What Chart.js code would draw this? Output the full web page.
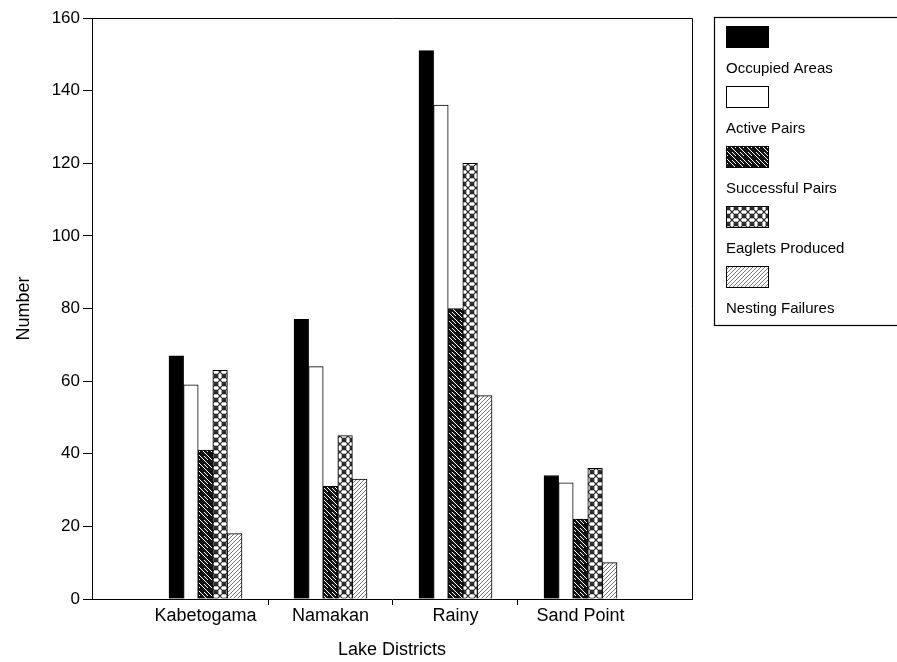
<!DOCTYPE html>
<html>
<head>
<meta charset="utf-8">
<script src="https://cdn.jsdelivr.net/npm/chart.js@4"></script>
<style>
  body { margin: 0; background: #fff; }
  #wrap { width: 897px; height: 662px; }
</style>
</head>
<body>
<div id="wrap"><canvas id="myChart" width="897" height="662"></canvas></div>
<script>
// data
var districts = ['Kabetogama', 'Namakan', 'Rainy', 'Sand Point'];
var occupiedAreas = [67, 77, 151, 34];
var activePairs = [59, 64, 136, 32];
var successfulPairs = [41, 31, 80, 22];
var eagletsProduced = [63, 45, 120, 36];
var nestingFailures = [18, 33, 56, 10];
var yTicks = [0, 20, 40, 60, 80, 100, 120, 140, 160];

var FONT = "'Liberation Sans', Arial, Helvetica, sans-serif";

// small tiles used as bar fills
function makePattern(kind) {
    var c = document.createElement('canvas');
    c.width = 8; c.height = 8;
    var g = c.getContext('2d');
    if (kind === 'solid') {
        g.fillStyle = '#000'; g.fillRect(0, 0, 8, 8);
    } else if (kind === 'empty') {
        g.fillStyle = '#fff'; g.fillRect(0, 0, 8, 8);
    } else if (kind === 'darkhatch') {
        g.fillStyle = '#111'; g.fillRect(0, 0, 8, 8);
        g.strokeStyle = '#fff'; g.lineWidth = 1;
        g.beginPath();
        g.moveTo(-1, -1); g.lineTo(9, 9);
        g.moveTo(3, -1); g.lineTo(9, 5);
        g.stroke();
    } else if (kind === 'cross') {
        g.fillStyle = '#fff'; g.fillRect(0, 0, 8, 8);
        g.strokeStyle = '#222'; g.lineWidth = 1.2;
        g.beginPath();
        g.moveTo(-1, -1); g.lineTo(9, 9);
        g.moveTo(-1, 9); g.lineTo(9, -1);
        g.moveTo(3, -1); g.lineTo(-1, 3);
        g.moveTo(5, -1); g.lineTo(9, 3);
        g.moveTo(-1, 5); g.lineTo(3, 9);
        g.moveTo(9, 5); g.lineTo(5, 9);
        g.stroke();
    } else if (kind === 'lighthatch') {
        g.fillStyle = '#fff'; g.fillRect(0, 0, 8, 8);
        g.strokeStyle = '#666'; g.lineWidth = 0.9;
        g.beginPath();
        g.moveTo(-1, 9); g.lineTo(9, -1);
        g.moveTo(-1, 5); g.lineTo(5, -1);
        g.moveTo(3, 9); g.lineTo(9, 3);
        g.stroke();
    }
    return g.createPattern(c, 'repeat');
}

function points(vals) {
    return vals.map(function (v, i) { return { x: i + 1, y: v }; });
}

function series(label, vals, kind) {
    return {
        label: label,
        data: points(vals),
        backgroundColor: makePattern(kind),
        borderColor: '#000',
        borderWidth: 1,
        borderSkipped: 'bottom',
        barThickness: 14.6
    };
}

// box round the plot (top and right edges)
var framePlugin = {
    id: 'frame',
    afterDraw: function (chart) {
        var a = chart.chartArea, ctx = chart.ctx;
        ctx.save();
        ctx.strokeStyle = '#000';
        ctx.lineWidth = 1;
        ctx.beginPath();
        ctx.moveTo(a.left, a.top + 0.5);
        ctx.lineTo(a.right + 0.5, a.top + 0.5);
        ctx.lineTo(a.right + 0.5, a.bottom);
        ctx.stroke();
        ctx.restore();
    }
};

// legend with swatch above each label, in a box on the right
var boxLegend = {
    id: 'boxLegend',
    afterDraw: function (chart) {
        var ctx = chart.ctx;
        var x = 714, y = 17, w = 200, h = 308;
        ctx.save();
        ctx.strokeStyle = '#000';
        ctx.lineWidth = 1.2;
        ctx.strokeRect(x + 0.5, y + 0.5, w, h);
        ctx.font = '15px ' + FONT;
        ctx.textBaseline = 'alphabetic';
        chart.data.datasets.forEach(function (ds, i) {
            var sy = y + 9 + i * 60;
            ctx.fillStyle = ds.backgroundColor;
            ctx.fillRect(726, sy, 43, 22);
            ctx.strokeStyle = '#000';
            ctx.lineWidth = 1;
            ctx.strokeRect(726.5, sy + 0.5, 42, 21);
            ctx.fillStyle = '#000';
            ctx.fillText(ds.label, 726, sy + 47);
        });
        ctx.restore();
    }
};

var ctx = document.getElementById('myChart').getContext('2d');

var chart = new Chart(ctx, {
    type: 'bar',
    data: {
        datasets: [
            series('Occupied Areas', occupiedAreas, 'solid'),
            series('Active Pairs', activePairs, 'empty'),
            series('Successful Pairs', successfulPairs, 'darkhatch'),
            series('Eaglets Produced', eagletsProduced, 'cross'),
            series('Nesting Failures', nestingFailures, 'lighthatch')
        ]
    },
    options: {
        responsive: false,
        animation: false,
        layout: { padding: { left: 8, right: 205, top: 18, bottom: 0 } },
        plugins: {
            legend: { display: false },
            tooltip: { enabled: false }
        },
        scales: {
            x: {
                type: 'linear',
                offset: false,
                min: 0.092,
                max: 4.892,
                afterBuildTicks: function (scale) {
                    scale.ticks = [1, 1.5, 2, 2.5, 3, 3.5, 4].map(function (v) { return { value: v }; });
                },
                afterFit: function (scale) { scale.height = 63; },
                ticks: {
                    autoSkip: false,
                    maxRotation: 0,
                    padding: 0,
                    color: '#000',
                    font: { family: FONT, size: 18 },
                    callback: function (v) {
                        return Number.isInteger(v) ? districts[v - 1] : '';
                    }
                },
                grid: {
                    offset: false,
                    drawOnChartArea: false,
                    tickLength: 6,
                    color: function (c) {
                        return c.tick && Number.isInteger(c.tick.value) ? 'rgba(0,0,0,0)' : '#000';
                    }
                },
                border: { color: '#000', width: 1 },
                title: {
                    display: true,
                    text: 'Lake Districts',
                    color: '#000',
                    font: { family: FONT, size: 18 },
                    padding: { top: 4, bottom: 1 }
                }
            },
            y: {
                min: 0,
                max: 160,
                afterBuildTicks: function (scale) {
                    scale.ticks = yTicks.map(function (v) { return { value: v }; });
                },
                afterFit: function (scale) { scale.width = 84; },
                ticks: {
                    padding: 3,
                    color: '#000',
                    font: { family: FONT, size: 17 }
                },
                grid: {
                    drawOnChartArea: false,
                    tickLength: 9,
                    color: '#000'
                },
                border: { color: '#000', width: 1 },
                title: {
                    display: true,
                    text: 'Number',
                    color: '#000',
                    font: { family: FONT, size: 18 },
                    padding: { top: 5, bottom: 5 }
                }
            }
        }
    },
    plugins: [framePlugin, boxLegend]
});
</script>
</body>
</html>
